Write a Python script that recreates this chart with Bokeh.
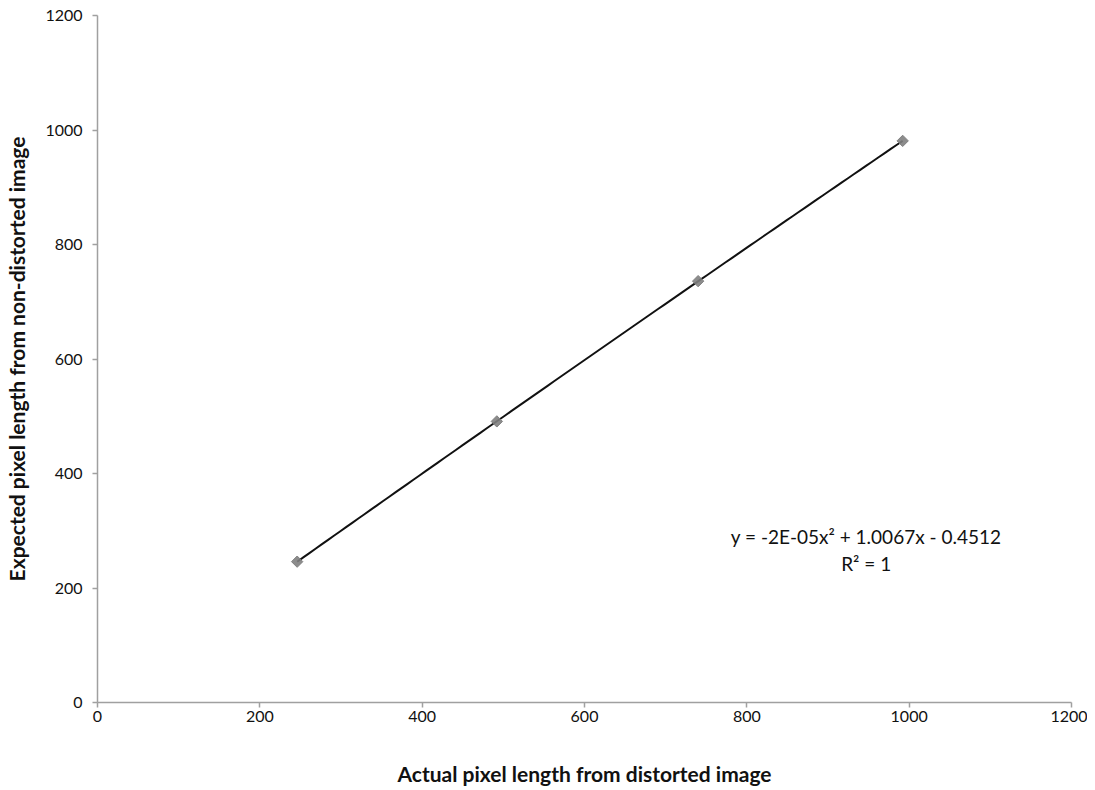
import numpy as np
from bokeh.plotting import figure
from bokeh.models import ColumnDataSource, FixedTicker, Label, Range1d
from bokeh.embed import file_html
from bokeh.resources import INLINE

# Data
actual_px = [246, 492, 740, 992]
expected_px = [246, 491, 736, 981]
tick_values = [0, 200, 400, 600, 800, 1000, 1200]
equation_text = "y = -2E-05x\u00b2 + 1.0067x - 0.4512"
r2_text = "R\u00b2 = 1"

FONT = "Lato"

# Second-order polynomial trendline fitted to the points
coef = np.polyfit(actual_px, expected_px, 2)
xs = np.linspace(min(actual_px), max(actual_px), 100)
ys = np.polyval(coef, xs)

p = figure(frame_width=974, frame_height=687, output_backend="svg", toolbar_location=None,
           x_range=Range1d(0, 1200), y_range=Range1d(0, 1200),
           min_border_left=97, min_border_right=16, min_border_top=15, min_border_bottom=70)
p.outline_line_color = None
p.xgrid.grid_line_color = None
p.ygrid.grid_line_color = None
p.background_fill_color = "white"

p.line(xs, ys, line_color="#111111", line_width=2)
src = ColumnDataSource(dict(x=actual_px, y=expected_px))
p.scatter("x", "y", source=src, marker="square", angle=np.pi / 4, size=8,
          fill_color="#808080", line_color="#808080", fill_alpha=0.9)

for ax in (p.xaxis, p.yaxis):
    ax.ticker = FixedTicker(ticks=tick_values)
    ax.axis_line_color = "#a0a0a0"
    ax.axis_line_width = 1.5
    ax.major_tick_line_color = "#a0a0a0"
    ax.major_tick_line_width = 1.5
    ax.major_tick_out = 5
    ax.major_tick_in = 0
    ax.minor_tick_line_color = None
    ax.major_label_text_font = FONT
    ax.major_label_text_font_size = "16px"
    ax.major_label_text_color = "#111111"
    ax.axis_label_text_font = FONT
    ax.axis_label_text_font_style = "bold"
    ax.axis_label_text_color = "#111111"

p.xaxis.axis_label_text_font_size = "21px"
p.yaxis.axis_label_text_font_size = "21px"
p.xaxis.axis_label = "Actual pixel length from distorted image"
p.yaxis.axis_label = "Expected pixel length from non-distorted image"
p.xaxis.major_label_standoff = 3
p.xaxis.axis_label_standoff = 36
p.yaxis.major_label_standoff = 10
p.yaxis.axis_label_standoff = 13

p.add_layout(Label(x=947, y=290, text=equation_text, text_align="center",
                   text_baseline="middle", text_font=FONT, text_font_size="19px",
                   text_color="#111111"))
p.add_layout(Label(x=947, y=242, text=r2_text, text_align="center",
                   text_baseline="middle", text_font=FONT, text_font_size="19px",
                   text_color="#111111"))

open("out.html", "w").write(file_html(p, INLINE))
